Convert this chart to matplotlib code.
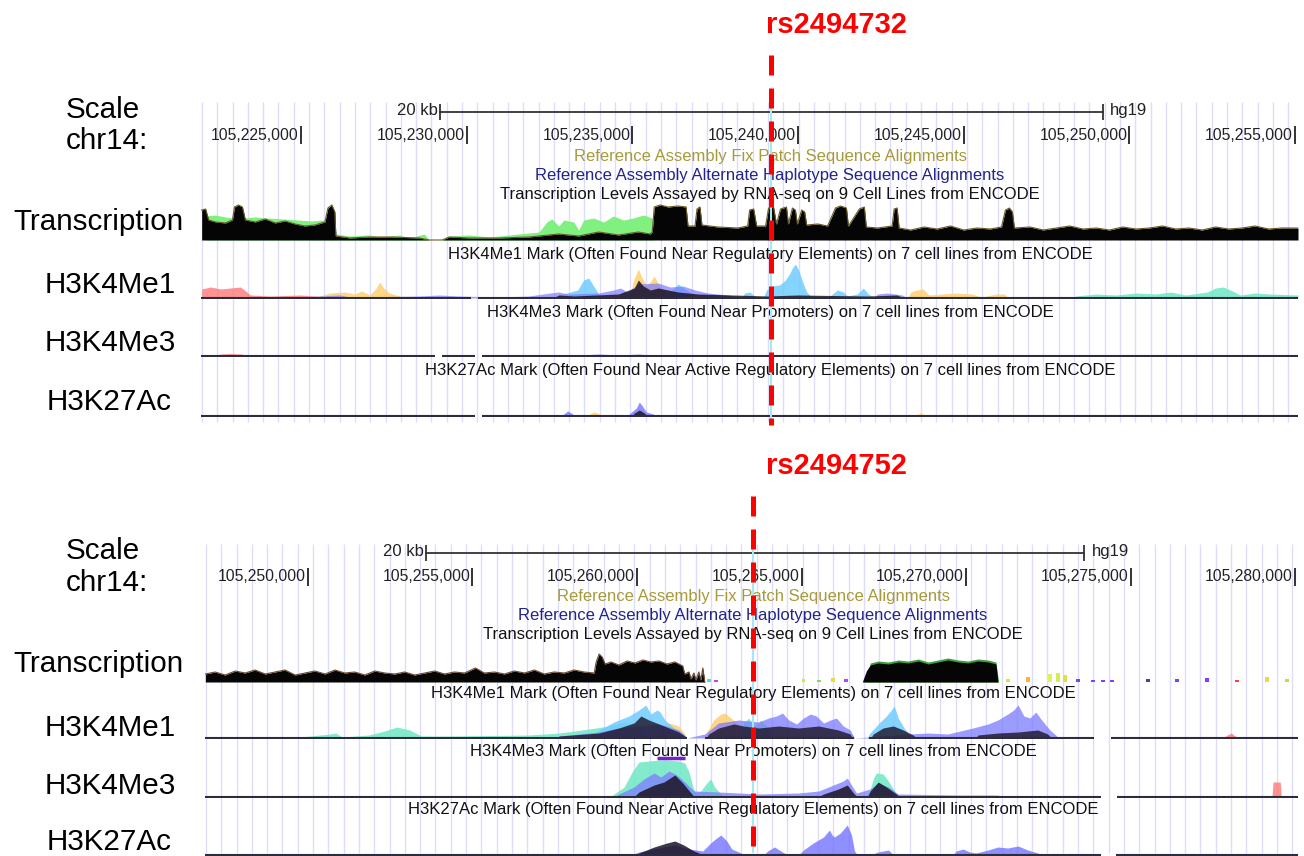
import numpy as np
import matplotlib.pyplot as plt
from matplotlib.lines import Line2D
from matplotlib.transforms import blended_transform_factory

plt.rcParams['font.family'] = ['Liberation Sans', 'DejaVu Sans']

W, H = 1304, 856

# positions: kb above chr14:105,200,000 ; heights: track signal (pixel units)

# ---------------- top window ----------------
top_view = (21.98, 55.09)
top_ticks = [25, 30, 35, 40, 45, 50, 55]
top_tick_labels = ['105,225,000', '105,230,000', '105,235,000', '105,240,000',
                   '105,245,000', '105,250,000', '105,255,000']
top_scalebar = (29.2, 49.2)
top_snp = 39.18
top_snp_name = 'rs2494732'

top_tx_black_kb = [22.00, 22.12, 22.21, 22.42, 22.72, 22.93, 22.99, 23.11, 23.23, 23.32, 23.62, 23.92,
                   24.22, 24.52, 24.82, 25.12, 25.42, 25.72, 25.81, 25.93, 26.02, 26.05, 26.47, 27.07,
                   27.67, 28.57, 28.87, 29.26, 29.47, 30.08, 30.98, 31.88, 32.18, 32.78, 33.38, 33.98,
                   34.58, 35.18, 35.54, 35.60, 35.66, 35.84, 36.08, 36.38, 36.62, 36.68, 36.89, 36.95,
                   37.04, 37.10, 37.58, 38.18, 38.48, 38.54, 38.66, 38.75, 39.02, 39.11, 39.26, 39.35,
                   39.47, 39.65, 39.71, 39.83, 39.92, 39.98, 40.11, 40.20, 40.26, 40.60, 40.89, 41.13,
                   41.28, 41.46, 41.52, 41.85, 42.00, 42.06, 42.40, 42.84, 42.90, 42.99, 43.05, 43.40,
                   43.80, 44.20, 44.60, 45.00, 45.40, 45.80, 46.14, 46.26, 46.38, 46.47, 46.53, 47.00,
                   47.40, 47.80, 48.20, 48.60, 49.00, 49.40, 49.80, 50.20, 50.60, 51.00, 51.40, 51.80,
                   52.20, 52.60, 53.00, 53.40, 53.80, 54.20, 54.60, 55.09]
top_tx_black_h = [30, 31, 20, 18, 17, 20, 33, 35, 33, 20, 18, 21,
                  17, 19, 16, 14, 15, 18, 32, 35, 28, 4, 2, 3,
                  3, 2, 0, 0, 3, 2, 2, 3, 4, 6, 4, 8,
                  5, 8, 6, 8, 33, 35, 33, 34, 33, 14, 14, 31,
                  33, 15, 13, 12, 14, 30, 31, 14, 14, 32, 33, 16,
                  31, 33, 16, 32, 30, 16, 30, 28, 15, 16, 14, 32,
                  34, 32, 14, 31, 33, 13, 12, 14, 31, 32, 12, 10,
                  13, 11, 14, 10, 12, 11, 13, 30, 32, 28, 12, 13,
                  10, 12, 14, 11, 12, 10, 13, 11, 12, 14, 11, 12,
                  10, 13, 11, 12, 14, 11, 12, 12]
top_tx_green_kb = [22.12, 22.40, 22.72, 22.93, 23.30, 23.60, 24.00, 24.50, 24.90, 25.30, 25.70, 26.02,
                   26.06, 26.47, 27.07, 27.37, 27.97, 28.27, 28.72, 28.87, 29.26, 29.47, 30.08, 30.68,
                   31.58, 32.18, 32.42, 32.57, 32.78, 32.93, 33.23, 33.38, 33.53, 33.83, 34.13, 34.43,
                   34.73, 35.03, 35.33, 35.60, 35.66]
top_tx_green_h = [24, 25, 23, 22, 22, 23, 22, 21, 20, 19, 20, 18,
                  6, 4, 5, 3, 5, 2, 6, 0, 0, 4, 5, 3,
                  6, 8, 18, 21, 14, 20, 18, 10, 20, 22, 18, 24,
                  20, 22, 25, 22, 0]
top_tx_dots_kb = [27.91, 30.44, 30.86, 31.43]
top_tx_dots_h = [3, 3, 3, 2]
top_tx_dots_c = ['#40e0e0', '#ff4040', '#ff4080', '#c040ff']

top_me1_red_kb = [22.00, 22.27, 22.57, 22.87, 23.17, 23.29, 23.47, 24.07, 24.97, 25.87, 26.50]
top_me1_red_h = [9, 11, 9, 10, 11, 8, 3, 2, 3, 1, 0]
top_me1_yellow_kb = [25.50, 25.57, 25.87, 26.32, 26.62, 26.83, 27.07, 27.25, 27.37, 27.49, 27.67, 27.97, 28.10,
                     34.90, 35.06, 35.18, 35.27, 35.42, 35.54, 35.66, 35.78, 36.02, 36.10,
                     43.30, 43.41, 43.59, 43.77, 43.95, 44.34, 44.79, 45.24, 45.54, 45.99, 46.23, 46.35]
top_me1_yellow_h = [0, 2, 5, 6, 4, 7, 3, 9, 16, 10, 5, 2, 0,
                    0, 20, 29, 22, 12, 16, 22, 14, 5, 0,
                    0, 6, 8, 9, 3, 4, 5, 4, 1, 4, 4, 0]
top_me1_blue_kb = [32.70, 32.78, 33.35, 33.53, 33.68, 33.83, 33.98, 34.05,
                   36.05, 36.14, 36.38, 36.62, 36.83, 36.90,
                   38.30, 38.39, 38.54, 38.69, 38.95, 39.05, 39.23, 39.44, 39.62, 39.74, 39.83, 39.92,
                   40.02, 40.14, 40.26, 40.38, 40.45, 40.90, 41.00, 41.19, 41.37, 41.49, 41.79, 41.97,
                   42.12, 42.27]
top_me1_blue_h = [0, 3, 8, 18, 20, 12, 4, 0,
                  0, 6, 14, 8, 4, 0,
                  0, 5, 6, 2, 0, 8, 12, 13, 18, 24, 30, 34,
                  28, 16, 6, 2, 0, 0, 3, 8, 6, 2, 4, 10,
                  4, 1]
top_me1_purple_kb = [24.97, 26.17, 26.47, 28.57, 29.17, 29.77, 30.98, 31.88, 32.51, 32.78, 33.05, 33.98,
                     34.43, 34.64, 34.85, 35.18, 35.78, 36.14, 36.53, 36.89, 37.28, 37.88, 38.30,
                     42.30, 42.39, 42.69, 43.14, 43.30]
top_me1_purple_h = [1, 3, 1, 2, 3, 2, 1, 2, 5, 6, 4, 5,
                    8, 10, 6, 14, 15, 11, 12, 8, 5, 3, 0,
                    0, 4, 5, 3, 0]
top_me1_teal_kb = [48.30, 48.39, 48.99, 49.59, 50.20, 50.80, 51.25, 51.70, 52.36, 52.60, 52.84, 53.11,
                   53.35, 53.80, 54.25, 55.09]
top_me1_teal_h = [0, 2, 4, 3, 5, 4, 6, 3, 6, 10, 11, 7,
                  3, 5, 4, 3]
top_me1_dark_kb = [32.60, 32.78, 33.23, 34.58, 35.06, 35.18, 35.33, 35.54, 35.78, 36.38, 36.98, 39.08,
                   39.98, 42.12, 42.99, 43.20]
top_me1_dark_h = [0, 3, 2, 4, 10, 18, 12, 8, 10, 6, 4, 2,
                  3, 2, 3, 0]

top_me3_red_kb = [22.40, 22.57, 22.87, 23.20, 23.40]
top_me3_red_h = [0, 2, 2.5, 2, 0]
top_me3_purple_kb = [32.50, 32.78, 33.40, 33.98, 34.60, 35.20, 35.80]
top_me3_purple_h = [0, 1.5, 1, 2, 1, 2, 0]

top_ac_purple_kb = [32.85, 32.93, 33.05, 33.20, 33.28, 34.85, 34.94, 35.12, 35.21, 35.30, 35.42, 35.63, 35.75]
top_ac_purple_h = [0, 2, 5, 2, 0, 0, 3, 8, 14, 10, 4, 2, 0]
top_ac_yellow_kb = [33.60, 33.71, 33.86, 34.01, 34.10, 43.50, 43.70, 43.90, 44.40, 44.60, 44.80,
                    51.80, 52.00, 52.20]
top_ac_yellow_h = [0, 2, 4, 2, 0, 0, 3, 0, 0, 2, 0, 0, 2, 0]
top_ac_dark_kb = [35.00, 35.06, 35.21, 35.36, 35.45]
top_ac_dark_h = [0, 3, 6, 3, 0]

top_me1_cover = [(21.98, 30.13), (30.35, 55.09)]
top_me3_cover = [(21.98, 29.05), (29.26, 30.26), (30.47, 55.09)]
top_ac_cover = [(21.98, 30.26), (30.47, 55.09)]

# ---------------- bottom window ----------------
bot_view = (46.87, 80.09)
bot_ticks = [50, 55, 60, 65, 70, 75, 80]
bot_tick_labels = ['105,250,000', '105,255,000', '105,260,000', '105,265,000',
                   '105,270,000', '105,275,000', '105,280,000']
bot_scalebar = (53.6, 73.6)
bot_snp = 63.53
bot_snp_name = 'rs2494752'

bot_tx_black_kb = [46.88, 47.18, 47.48, 47.79, 48.09, 48.39, 48.70, 49.00, 49.30, 49.61, 49.91, 50.21,
                   50.52, 50.82, 51.12, 51.42, 51.73, 52.03, 52.33, 52.64, 52.94, 53.24, 53.55, 53.85,
                   54.15, 54.45, 54.76, 55.09, 55.36, 55.67, 55.97, 56.27, 56.58, 56.88, 57.18, 57.48,
                   57.79, 58.09, 58.39, 58.70, 58.76, 58.85, 58.94, 59.03, 59.21, 59.45, 59.70, 59.94,
                   60.18, 60.42, 60.67, 60.91, 61.15, 61.39, 61.45, 61.58, 61.64, 61.73, 61.79, 61.88,
                   61.94, 62.00, 62.06, 66.85, 66.88, 66.97, 67.09, 67.33, 67.64, 67.94, 68.24, 68.55,
                   68.85, 69.15, 69.45, 69.76, 70.06, 70.36, 70.67, 70.91, 70.97]
bot_tx_black_h = [8, 10, 7, 11, 9, 12, 8, 10, 12, 7, 9, 11,
                  8, 12, 9, 10, 7, 11, 9, 8, 10, 7, 9, 11,
                  8, 10, 9, 14, 9, 10, 8, 11, 9, 12, 8, 10,
                  9, 12, 10, 9, 20, 28, 25, 18, 20, 17, 21, 19,
                  22, 20, 21, 18, 20, 16, 8, 10, 3, 9, 2, 10,
                  2, 14, 0, 0, 3, 11, 17, 19, 18, 20, 19, 21,
                  18, 20, 22, 20, 19, 21, 20, 18, 0]
bot_tx_green_kb = [66.90, 67.00, 67.09, 67.33, 67.64, 67.94, 68.24, 68.55, 68.85, 69.15, 69.45, 69.76,
                   70.06, 70.36, 70.67, 70.91, 70.99]
bot_tx_green_h = [0, 6, 19, 21, 20, 22, 21, 23, 20, 22, 24, 22, 21, 23, 22, 20, 0]
bot_tx_dots_kb = [62.20, 62.40, 65.06, 65.52, 65.97, 66.36, 71.27, 71.88, 72.55, 72.79, 73.00, 73.39,
                  73.85, 74.15, 74.45, 75.52, 76.42, 77.33, 78.24, 79.15, 79.76]
bot_tx_dots_h = [3, 2, 3, 2, 4, 3, 3, 5, 8, 9, 7, 3,
                 2, 2, 2, 3, 3, 4, 2, 5, 3]
bot_tx_dots_c = ['#40e0e0', '#c040ff', '#e0e040', '#80e040', '#e0e040', '#c040ff', '#e0e040', '#ffb040',
                 '#e0f060', '#d0f050', '#e0e040', '#8040ff', '#8040ff', '#8040ff', '#8040ff', '#4040c0',
                 '#8040ff', '#8040ff', '#ff4040', '#e0e040', '#c0e040']

bot_me1_blue_kb = [58.70, 58.85, 59.30, 59.76, 60.06, 60.27, 60.42, 60.61, 60.70, 60.85, 61.12, 61.42, 61.52,
                   67.00, 67.06, 67.33, 67.58, 67.73, 67.82, 67.94, 68.12, 68.27, 68.35]
bot_me1_blue_h = [0, 8, 16, 22, 28, 33, 24, 28, 26, 18, 10, 4, 0,
                  0, 4, 14, 22, 28, 32, 20, 10, 4, 0]
bot_me1_teal_kb = [49.76, 50.67, 50.85, 51.03, 51.85, 52.33, 52.70, 53.09, 53.45, 54.30, 56.70, 57.64,
                   58.55, 59.15, 59.61, 60.06, 60.30, 63.10, 63.24, 63.39, 63.58, 63.76, 64.00, 64.10]
bot_me1_teal_h = [1, 4, 5, 1, 3, 7, 11, 8, 2, 2, 3, 5,
                  9, 12, 16, 14, 0, 0, 15, 20, 12, 18, 10, 0]
bot_me1_yellow_kb = [60.60, 60.67, 60.97, 61.27, 61.45, 61.50, 62.08, 62.12, 62.33, 62.55, 62.67, 62.85,
                     63.09, 63.20]
bot_me1_yellow_h = [0, 10, 15, 12, 4, 0, 0, 6, 18, 24, 25, 20, 14, 0]
bot_me1_purple_kb = [57.64, 58.85, 59.45, 60.06, 60.67, 61.27, 61.52, 62.06, 62.48, 63.09, 63.70, 64.00,
                     64.24, 64.42, 64.61, 64.85, 65.06, 65.27, 65.45, 65.67, 65.88, 66.06, 66.27, 66.48,
                     66.61, 68.27, 68.85, 69.45, 69.70, 70.21, 70.67, 70.97, 71.27, 71.45, 71.58, 71.76,
                     71.94, 72.12, 72.30, 72.55, 72.76]
bot_me1_purple_h = [2, 6, 10, 12, 14, 8, 0, 4, 15, 18, 16, 20,
                    22, 25, 18, 14, 20, 24, 22, 15, 18, 20, 12, 8,
                    0, 4, 5, 4, 6, 10, 14, 18, 24, 28, 33, 22,
                    20, 26, 18, 8, 2]
bot_me1_red_kb = [77.80, 77.94, 78.06, 78.18, 78.30]
bot_me1_red_h = [0, 3, 5, 2, 0]
bot_me1_dark_kb = [57.50, 57.64, 58.85, 59.45, 59.91, 60.12, 60.36, 60.67, 60.97, 61.27, 61.45, 61.50,
                   62.10, 62.18, 62.48, 62.94, 63.24, 63.70, 64.30, 64.91, 65.52, 66.12, 66.48, 66.55,
                   67.10, 67.18, 67.48, 67.79, 68.09, 68.39, 68.50, 70.30, 70.36, 70.97, 71.58, 72.18,
                   72.48, 72.60]
bot_me1_dark_h = [0, 2, 5, 10, 15, 22, 18, 14, 10, 6, 2, 0,
                  0, 4, 10, 14, 12, 10, 12, 10, 12, 8, 4, 0,
                  0, 4, 10, 12, 8, 3, 0, 0, 3, 5, 6, 8,
                  4, 0]

bot_me3_teal_kb = [59.20, 59.30, 59.61, 59.85, 60.06, 60.36, 60.67, 60.97, 61.27, 61.45, 61.58, 61.70,
                   61.79, 61.94, 62.12, 62.24, 62.36, 62.55, 62.65, 66.95, 67.06, 67.18, 67.27, 67.48,
                   67.64, 67.79, 67.94]
bot_me3_teal_h = [0, 3, 10, 25, 35, 36, 37, 37, 36, 34, 25, 10,
                  4, 6, 14, 18, 10, 3, 0, 0, 5, 18, 24, 23,
                  16, 8, 0]
bot_me3_purple_kb = [59.30, 59.45, 59.91, 60.21, 60.52, 60.73, 60.97, 61.21, 61.45, 61.73, 62.48, 63.09,
                     63.70, 64.91, 65.52, 65.97, 66.27, 66.39, 66.52, 66.67, 67.09, 67.33, 67.64, 67.94,
                     69.76, 70.97, 71.10]
bot_me3_purple_h = [0, 3, 10, 18, 24, 20, 26, 22, 15, 6, 5, 4,
                    3, 4, 6, 12, 16, 19, 12, 4, 8, 14, 10, 3,
                    2, 2, 0]
bot_me3_dark_kb = [59.90, 60.06, 60.52, 60.82, 61.15, 61.39, 61.64, 61.75, 65.50, 65.67, 66.12, 66.39,
                   66.58, 66.70, 67.00, 67.09, 67.33, 67.58, 67.88, 68.00]
bot_me3_dark_h = [0, 5, 12, 15, 22, 14, 4, 0, 0, 3, 8, 12,
                  4, 0, 0, 6, 15, 10, 3, 0]
bot_me3_red_kb = [79.30, 79.33, 79.55, 79.58]
bot_me3_red_h = [0, 15, 15, 0]
bot_me3_bar = (60.61, 61.45, 39)

bot_ac_purple_kb = [59.80, 60.06, 60.52, 60.82, 61.15, 61.58, 62.00, 62.24, 62.42, 62.55, 62.73, 62.88,
                    63.09, 63.30, 63.85, 63.97, 64.18, 64.42, 64.60, 64.91, 65.06, 65.36, 65.67, 65.85,
                    65.93, 66.00, 66.18, 66.39, 66.52, 66.61, 66.70, 67.06, 67.33, 67.64, 67.80, 69.60,
                    69.70, 69.91, 70.12, 70.30, 70.67, 70.97, 71.27, 71.58, 71.88, 72.18, 72.30]
bot_ac_purple_h = [0, 3, 6, 8, 10, 6, 4, 12, 17, 20, 14, 6,
                   3, 0, 0, 4, 8, 3, 0, 0, 5, 12, 18, 25,
                   20, 18, 22, 30, 20, 4, 0, 0, 3, 5, 0, 0,
                   4, 6, 3, 2, 5, 8, 7, 9, 5, 2, 0]
bot_ac_dark_kb = [59.90, 60.06, 60.52, 60.91, 61.15, 61.42, 61.73, 61.88, 62.00]
bot_ac_dark_h = [0, 2, 8, 12, 14, 10, 4, 2, 0]

bot_me1_cover = [(46.87, 61.52), (62.06, 66.61), (67.06, 73.90), (74.42, 80.09)]
bot_me3_cover = [(46.87, 74.09), (74.60, 80.09)]
bot_ac_cover = [(46.87, 74.09), (74.55, 80.09)]

# cell-line colours (UCSC style)
RED, YEL, TEAL, LBLUE, PURP, DARK = '#ff7f7f', '#ffcf70', '#6de8c4', '#70ccff', '#7b7bff', '#1c1424'
GREEN = '#80f080'

titles = ['Reference Assembly Fix Patch Sequence Alignments',
          'Reference Assembly Alternate Haplotype Sequence Alignments',
          'Transcription Levels Assayed by RNA-seq on 9 Cell Lines from ENCODE',
          'H3K4Me1 Mark (Often Found Near Regulatory Elements) on 7 cell lines from ENCODE',
          'H3K4Me3 Mark (Often Found Near Promoters) on 7 cell lines from ENCODE',
          'H3K27Ac Mark (Often Found Near Active Regulatory Elements) on 7 cell lines from ENCODE']
title_colors = ['#a89a3a', '#23238a', '#111111', '#111111', '#111111', '#111111']
row_labels = ['Scale', 'chr14:', 'Transcription', 'H3K4Me1', 'H3K4Me3', 'H3K27Ac']

fig = plt.figure(figsize=(W / 100, H / 100), dpi=100)
fig.patch.set_facecolor('white')


def rect(x0, y0, x1, y1):
    return [x0 / W, 1 - y1 / H, (x1 - x0) / W, (y1 - y0) / H]


def track_axes(x0, x1, base, view):
    a = fig.add_axes(rect(x0, base - 41, x1, base + 1))
    a.set_xlim(view)
    a.set_ylim(-1, 41)
    a.axis('off')
    a.patch.set_alpha(0)
    return a


def area(a, kb, h, color, alpha=0.85, z=2):
    a.fill_between(kb, 0, h, color=color, alpha=alpha, lw=0, zorder=z)


def draw_panel(view, box, ticks, tick_labels, scalebar, snp, snp_name, title_cx,
               y_scale, y_tick, y_titles, bases, snp_y, label_ys, label_xs, tracks, covers):
    x0, y0, x1, y1 = box
    ax = fig.add_axes(rect(x0, y0, x1, y1))
    ax.set_xlim(view)
    ax.set_ylim(y1, y0)
    ax.axis('off')
    step = 15.3 / ((x1 - x0) / (view[1] - view[0]))
    ax.vlines(np.arange(view[0] + 0.03, view[1], step), y0 + 2, y1 - 3, color='#dcdcfb', lw=1.0, zorder=0)

    # scale bar
    ax.plot(scalebar, [y_scale, y_scale], color='#333333', lw=1.3)
    ax.vlines(scalebar, y_scale - 8, y_scale + 8, color='#333333', lw=1.3)
    ax.annotate('20 kb', (scalebar[0], y_scale), xytext=(-2, 1), textcoords='offset points',
                ha='right', va='center', fontsize=12, color='#222222')
    ax.annotate('hg19', (scalebar[1], y_scale), xytext=(5, 1), textcoords='offset points',
                ha='left', va='center', fontsize=12, color='#222222')

    # position ticks
    ax.vlines(ticks, y_tick - 9, y_tick + 9, color='#222222', lw=1.3, clip_on=False)
    for t, lab in zip(ticks, tick_labels):
        ax.annotate(lab, (t, y_tick), xytext=(-1.5, 0), textcoords='offset points',
                    ha='right', va='center', fontsize=11.3, color='#222222', annotation_clip=False)

    bt = blended_transform_factory(ax.transAxes, ax.transData)
    for s, c, y in zip(titles, title_colors, y_titles):
        ax.text(title_cx, y, s, transform=bt, ha='center', va='center', fontsize=12, color=c)

    # signal tracks
    for base, draw, cover in zip(bases, tracks, covers):
        a = track_axes(x0, x1, base, view)
        draw(a)
        for c0, c1 in cover:
            a.hlines(0, c0, c1, color='#2c2c3c', lw=1.5, zorder=5)

    # highlight + SNP line
    st = blended_transform_factory(ax.transData, fig.transFigure)
    fig.add_artist(Line2D([snp, snp], [1 - (y0 + 8) / H, 1 - (y1 - 4) / H], transform=st,
                          color='#a6e8f4', lw=1.5, zorder=3))
    fig.add_artist(Line2D([snp, snp], [1 - snp_y[0] / H, 1 - snp_y[1] / H], transform=st,
                          color='#ff0000', lw=3.6, dashes=(4, 2.6), zorder=4))
    fig.text(766 / W, 1 - (snp_y[0] - 30) / H, snp_name, color='#ff0000', fontweight='bold',
             fontsize=21, ha='left', va='center')

    for s, lx, ly in zip(row_labels, label_xs, label_ys):
        fig.text(lx / W, 1 - ly / H, s, ha='center', va='center', fontsize=21.3, color='black')


def top_tx(a):
    area(a, top_tx_green_kb, top_tx_green_h, GREEN, alpha=1)
    area(a, top_tx_black_kb, top_tx_black_h, '#050505', alpha=1, z=3)
    a.plot(top_tx_black_kb, top_tx_black_h, color='#6a5a20', lw=0.8, zorder=3)
    a.bar(top_tx_dots_kb, top_tx_dots_h, width=0.12, bottom=0, color=top_tx_dots_c, lw=0)


def top_me1(a):
    area(a, top_me1_yellow_kb, top_me1_yellow_h, YEL)
    area(a, top_me1_teal_kb, top_me1_teal_h, TEAL)
    area(a, top_me1_blue_kb, top_me1_blue_h, LBLUE)
    area(a, top_me1_red_kb, top_me1_red_h, RED)
    area(a, top_me1_purple_kb, top_me1_purple_h, PURP, alpha=0.7)
    area(a, top_me1_dark_kb, top_me1_dark_h, DARK, alpha=0.85)


def top_me3(a):
    area(a, top_me3_red_kb, top_me3_red_h, RED)
    area(a, top_me3_purple_kb, top_me3_purple_h, PURP)


def top_ac(a):
    area(a, top_ac_yellow_kb, top_ac_yellow_h, YEL)
    area(a, top_ac_purple_kb, top_ac_purple_h, PURP)
    area(a, top_ac_dark_kb, top_ac_dark_h, DARK)


def bot_tx(a):
    area(a, bot_tx_green_kb, bot_tx_green_h, '#3aa03a', alpha=1)
    area(a, bot_tx_black_kb, bot_tx_black_h, '#050505', alpha=1, z=3)
    a.plot(bot_tx_black_kb[:63], bot_tx_black_h[:63], color='#6a4a30', lw=0.8, zorder=3)
    a.bar(bot_tx_dots_kb, bot_tx_dots_h, width=0.12, bottom=0, color=bot_tx_dots_c, lw=0)


def bot_me1(a):
    area(a, bot_me1_teal_kb, bot_me1_teal_h, TEAL)
    area(a, bot_me1_yellow_kb, bot_me1_yellow_h, YEL)
    area(a, bot_me1_blue_kb, bot_me1_blue_h, LBLUE)
    area(a, bot_me1_purple_kb, bot_me1_purple_h, PURP, alpha=0.75)
    area(a, bot_me1_red_kb, bot_me1_red_h, RED)
    area(a, bot_me1_dark_kb, bot_me1_dark_h, DARK, alpha=0.8)


def bot_me3(a):
    area(a, bot_me3_teal_kb, bot_me3_teal_h, TEAL)
    area(a, bot_me3_purple_kb, bot_me3_purple_h, PURP, alpha=0.75)
    area(a, bot_me3_dark_kb, bot_me3_dark_h, DARK, alpha=0.85)
    area(a, bot_me3_red_kb, bot_me3_red_h, RED)
    a.hlines(bot_me3_bar[2], bot_me3_bar[0], bot_me3_bar[1], color='#7a1ecc', lw=2.5)


def bot_ac(a):
    area(a, bot_ac_purple_kb, bot_ac_purple_h, PURP)
    area(a, bot_ac_dark_kb, bot_ac_dark_h, DARK, alpha=0.85)


draw_panel(top_view, (201, 100, 1298, 425), top_ticks, top_tick_labels, top_scalebar, top_snp,
           top_snp_name, 0.5187, 112, 135, [156, 175, 194, 254, 312, 370],
           [240, 298, 356, 416], (55, 425), [110, 141, 222, 285, 343, 402],
           [103, 107, 98, 110, 110, 109], [top_tx, top_me1, top_me3, top_ac],
           [[], top_me1_cover, top_me3_cover, top_ac_cover])

draw_panel(bot_view, (205, 542, 1298, 856), bot_ticks, bot_tick_labels, bot_scalebar, bot_snp,
           bot_snp_name, 0.5014, 553, 577, [597, 616, 635, 694, 752, 810],
           [682, 738, 797, 855], (496, 856), [551, 583, 664, 728, 786, 842],
           [103, 107, 98, 110, 110, 109], [bot_tx, bot_me1, bot_me3, bot_ac],
           [[], bot_me1_cover, bot_me3_cover, bot_ac_cover])

fig.savefig('out.png', dpi=100, facecolor='white')
